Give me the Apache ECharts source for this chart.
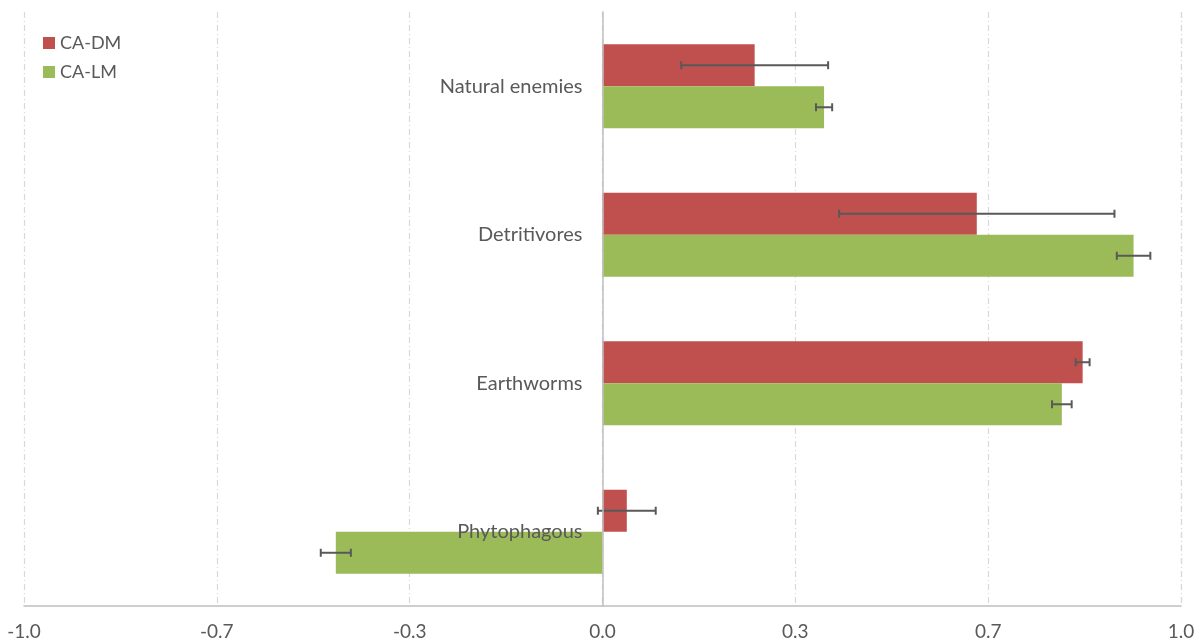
<!DOCTYPE html>
<html>
<head>
<meta charset="utf-8">
<script src="https://cdn.jsdelivr.net/npm/echarts@6/dist/echarts.min.js"></script>
<style>html,body{margin:0;padding:0;background:#fff}#c{width:1203px;height:644px}</style>
</head>
<body>
<div id="c"></div>
<script>
// categories listed bottom-to-top
const categories = ['Phytophagous', 'Earthworms', 'Detritivores', 'Natural enemies'];
const dmValues = [0.042, 0.830, 0.647, 0.263];
const dmErrors = [0.050, 0.012, 0.238, 0.127];
const lmValues = [-0.461, 0.794, 0.918, 0.383];
const lmErrors = [0.026, 0.017, 0.029, 0.014];
const tickLabels = ['-1.0', '-0.7', '-0.3', '0.0', '0.3', '0.7', '1.0'];

const RED = '#C0504D', GREEN = '#9BBB59', TXT = '#595959';
const GAP = 0.434;
const FONT = 'Lato, "Open Sans", sans-serif';

function errSeries(name, vals, errs, sign) {
  return {
    type: 'custom', name: name + ' err', z: 5, silent: true,
    data: vals.map((v, i) => [i, v, errs[i]]),
    encode: { x: 1, y: 0 },
    renderItem: function (params, api) {
      const cat = api.value(0), v = api.value(1), e = api.value(2);
      const band = api.size([0, 1])[1];
      const bw = band * (1 - GAP) / 2;
      const off = sign * bw / 2;
      const p1 = api.coord([v - e, cat]);
      const p2 = api.coord([v + e, cat]);
      const y = p1[1] + off, h = 4;
      const st = { stroke: TXT, lineWidth: 2 };
      return { type: 'group', children: [
        { type: 'line', shape: { x1: p1[0], y1: y, x2: p2[0], y2: y }, style: st },
        { type: 'line', shape: { x1: p1[0], y1: y - h, x2: p1[0], y2: y + h }, style: st },
        { type: 'line', shape: { x1: p2[0], y1: y - h, x2: p2[0], y2: y + h }, style: st }
      ]};
    }
  };
}

const chart = echarts.init(document.getElementById('c'));
chart.setOption({
  animation: false,
  textStyle: { fontFamily: FONT },
  grid: { left: 24, right: 22, top: 12, bottom: 38, containLabel: false, outerBoundsMode: 'none' },
  legend: {
    data: ['CA-DM', 'CA-LM'], orient: 'vertical', left: 38, top: 29,
    itemWidth: 12, itemHeight: 12, itemGap: 11, icon: 'rect',
    textStyle: { color: TXT, fontSize: 18, fontFamily: FONT }
  },
  xAxis: {
    type: 'value', min: -1, max: 1, interval: 1 / 3,
    axisLine: { show: true, onZero: false, lineStyle: { color: '#BFBFBF', width: 1.5 } },
    axisTick: { show: false },
    axisLabel: {
      color: TXT, fontSize: 19, margin: 16,
      formatter: function (v) { return tickLabels[Math.round((v + 1) * 3)]; }
    },
    splitLine: { show: true, lineStyle: { color: '#D9D9D9', width: 1.2, type: [6, 3, 1, 3] } }
  },
  yAxis: {
    type: 'category', data: categories, z: 10,
    axisLine: { show: true, onZero: true, lineStyle: { color: '#BFBFBF', width: 1.5 } },
    axisTick: { show: false },
    axisLabel: { show: false },
    splitLine: { show: false }
  },
  series: [
    { name: 'CA-DM', type: 'bar', data: dmValues, barGap: '0%', barCategoryGap: (GAP * 100) + '%',
      itemStyle: { color: RED } },
    { name: 'CA-LM', type: 'bar', data: lmValues, barGap: '0%', barCategoryGap: (GAP * 100) + '%',
      itemStyle: { color: GREEN } },
    errSeries('CA-DM', dmValues, dmErrors, -1),
    errSeries('CA-LM', lmValues, lmErrors, 1),
    {
      type: 'custom', name: 'cat labels', z: 20, silent: true,
      data: categories.map((c, i) => [i, 0]),
      encode: { x: 1, y: 0 },
      renderItem: function (params, api) {
        const p = api.coord([0, api.value(0)]);
        return { type: 'text', x: p[0] - 20, y: p[1],
          style: { text: categories[api.value(0)], fill: TXT, font: '20px ' + FONT,
                   align: 'right', verticalAlign: 'middle' } };
      }
    }
  ]
});
</script>
</body>
</html>
